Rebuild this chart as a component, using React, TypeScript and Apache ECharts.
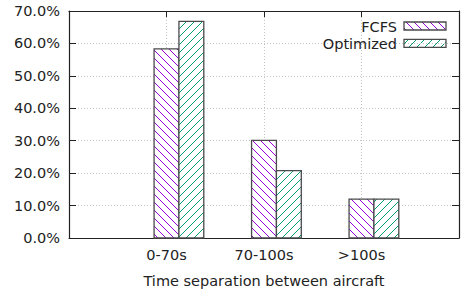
import React, { useEffect, useRef } from "react";
import * as echarts from "echarts";

const categories = ["0-70s", "70-100s", ">100s"];
const fcfs = [58.3, 30.1, 12.0];
const optimized = [66.8, 20.8, 12.0];
const seriesNames = ["FCFS", "Optimized"];
const xTitle = "Time separation between aircraft";

const FONT = "DejaVu Sans";
const TEXT = "#222";
const PURPLE = "#9400d3";
const GREEN = "#009e73";
const BORDER = "#4a4a4a";
const STEP = 8;

// hatched box: white fill, clipped 45° lines, border on top
function hatchBox(x0: number, y0: number, w: number, h: number, color: string, back: boolean) {
  const x1 = x0 + w;
  const y1 = y0 + h;
  const children: any[] = [
    { type: "rect", shape: { x: x0, y: y0, width: w, height: h }, style: { fill: "#fff" } },
  ];
  if (back) {
    // y = x + c
    const cStart = Math.ceil((y0 - x1) / STEP) * STEP;
    for (let c = cStart; c <= y1 - x0; c += STEP) {
      const xa = Math.max(x0, y0 - c);
      const xb = Math.min(x1, y1 - c);
      if (xb - xa > 0.3) {
        children.push({
          type: "line",
          shape: { x1: xa, y1: xa + c, x2: xb, y2: xb + c },
          style: { stroke: color, lineWidth: 1 },
        });
      }
    }
  } else {
    // y = c - x
    const cStart = Math.ceil((x0 + y0) / STEP) * STEP;
    for (let c = cStart; c <= x1 + y1; c += STEP) {
      const xa = Math.max(x0, c - y1);
      const xb = Math.min(x1, c - y0);
      if (xb - xa > 0.3) {
        children.push({
          type: "line",
          shape: { x1: xa, y1: c - xa, x2: xb, y2: c - xb },
          style: { stroke: color, lineWidth: 1 },
        });
      }
    }
  }
  children.push({
    type: "rect",
    shape: { x: x0, y: y0, width: w, height: h },
    style: { fill: "none", stroke: BORDER, lineWidth: 1.3 },
  });
  return children;
}

export default function App() {
  const ref = useRef<HTMLDivElement>(null);
  useEffect(() => {
    const chart = echarts.init(ref.current!, null, { renderer: "svg" });
    const barW = 0.255;
    const mkSeries = (name: string, vals: number[], offset: number, color: string, back: boolean) => ({
      type: "custom",
      name,
      data: vals.map((v, i) => [i, v]),
      encode: { x: 0, y: 1 },
      renderItem: (params: any, api: any) => {
        const i = api.value(0);
        const v = api.value(1);
        const base = api.coord([i, 0]);
        const top = api.coord([i, v]);
        const w = api.size([barW, 0])[0];
        const x0 = base[0] - w / 2 + offset * w;
        return {
          type: "group",
          children: hatchBox(x0, top[1], w, base[1] - top[1], color, back),
        };
      },
      z: 3,
    });
    const axisLine = { show: true, onZero: false, lineStyle: { color: "#222", width: 1.2 } };
    const split = { show: true, lineStyle: { color: "#c4c4c4", type: [1, 2], width: 1 } };
    const tick = (len: number) => ({ show: true, inside: true, length: len, lineStyle: { color: "#222" } });
    chart.setOption({
      animation: false,
      grid: { left: 69, right: 1, top: 11, bottom: 56, containLabel: false },
      xAxis: [
        {
          type: "value",
          min: -1,
          max: 3,
          interval: 1,
          position: "bottom",
          axisLine,
          axisTick: tick(6),
          splitLine: split,
          axisLabel: {
            formatter: (v: number) => categories[v] ?? "",
            fontFamily: FONT,
            fontSize: 14.5,
            color: TEXT,
            margin: 9,
          },
          name: xTitle,
          nameLocation: "middle",
          nameGap: 35,
          nameTextStyle: { fontFamily: FONT, fontSize: 14.5, color: TEXT },
        },
        {
          type: "value",
          min: -1,
          max: 3,
          interval: 1,
          position: "top",
          axisLine,
          axisTick: tick(6),
          splitLine: { show: false },
          axisLabel: { show: false },
        },
      ],
      yAxis: [
        {
          type: "value",
          min: 0,
          max: 70,
          interval: 10,
          position: "left",
          axisLine,
          axisTick: tick(7),
          splitLine: split,
          axisLabel: {
            formatter: (v: number) => v.toFixed(1) + "%",
            fontFamily: FONT,
            fontSize: 14.5,
            color: TEXT,
            margin: 9,
          },
        },
        {
          type: "value",
          min: 0,
          max: 70,
          interval: 10,
          position: "right",
          axisLine,
          axisTick: tick(7),
          splitLine: { show: false },
          axisLabel: { show: false },
        },
      ],
      series: [
        mkSeries(seriesNames[0], fcfs, 0, PURPLE, true),
        mkSeries(seriesNames[1], optimized, 1, GREEN, false),
      ],
      graphic: [
        {
          type: "text",
          x: 397,
          y: 27,
          z: 10,
          style: { text: seriesNames[0], textAlign: "right", textVerticalAlign: "middle", font: `14.5px "${FONT}"`, fill: TEXT },
        },
        { type: "group", z: 10, children: hatchBox(404, 22, 42, 8, PURPLE, true) },
        {
          type: "text",
          x: 397,
          y: 43.5,
          z: 10,
          style: { text: seriesNames[1], textAlign: "right", textVerticalAlign: "middle", font: `14.5px "${FONT}"`, fill: TEXT },
        },
        { type: "group", z: 10, children: hatchBox(404, 39.3, 42, 8, GREEN, false) },
      ],
    });
    return () => chart.dispose();
  }, []);
  return (
    <div
      ref={ref}
      style={{ position: "fixed", left: 0, top: 0, width: 462, height: 294, background: "#fff" }}
    />
  );
}
